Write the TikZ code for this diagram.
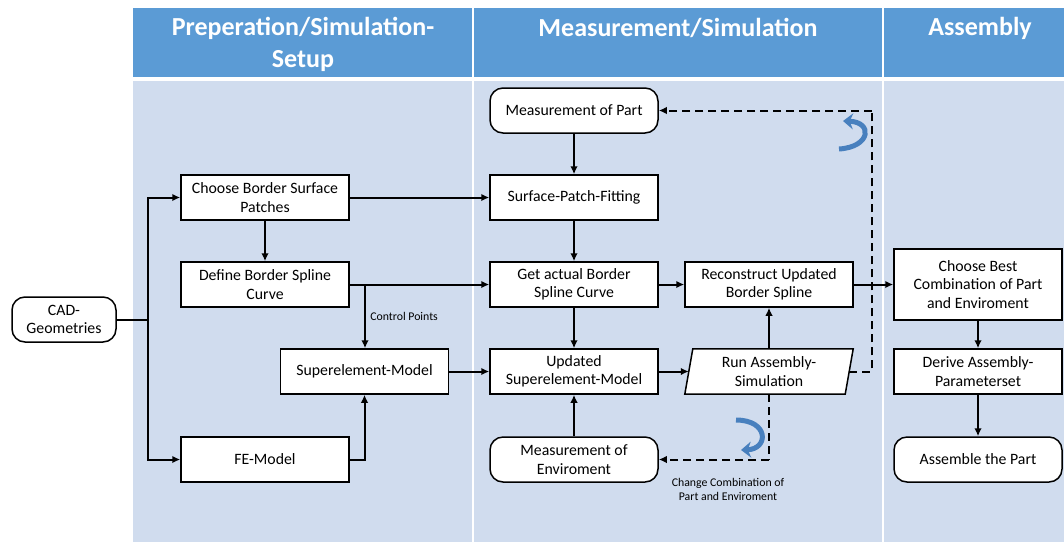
\documentclass[tikz,border=0pt]{standalone}
\usepackage{fontspec}
\setmainfont{Carlito}
\usetikzlibrary{arrows.meta,calc}
\definecolor{hdr}{RGB}{91,155,213}
\definecolor{bodybg}{RGB}{208,220,238}
\definecolor{curv}{RGB}{72,128,190}
\begin{document}
\begin{tikzpicture}[x=1pt,y=-1pt,
  box/.style={draw, fill=white, line width=1.5pt, minimum width=168pt, minimum height=45pt,
    align=center, inner sep=2pt, font=\fontsize{15.8}{18.5}\selectfont},
  rbox/.style={box, rounded corners=13pt},
  plain/.style={minimum width=168pt, minimum height=45pt, align=center, inner sep=2pt,
    font=\fontsize{15.8}{18.5}\selectfont},
  arr/.style={line width=2pt, -{Latex[length=8pt,width=7.5pt]}},
  ln/.style={line width=2pt},
  dsh/.style={line width=2pt, dash pattern=on 8pt off 5pt},
  hdrtxt/.style={text=white, font=\bfseries\fontsize{26}{32}\selectfont, align=center},
  curvy/.style={line width=5pt, curv, -{Stealth[length=10pt,width=16pt]}},
  small/.style={font=\fontsize{11.8}{14}\selectfont, align=center}]
\useasboundingbox (0,0) rectangle (1064,542);
\fill[white] (0,0) rectangle (1064,542);
% column headers and bodies
\fill[hdr] (133,8) rectangle (472,77);
\fill[hdr] (474,8) rectangle (881.5,77);
\fill[hdr] (883.5,8) rectangle (1064,77);
\fill[bodybg] (133,81) rectangle (472,542);
\fill[bodybg] (474,81) rectangle (881.5,542);
\fill[bodybg] (883.5,81) rectangle (1064,542);
\node[hdrtxt] (h1) at (303,44) {Preperation/Simulation-\\Setup};
\node[hdrtxt] (h2) at (678,28) {Measurement/Simulation};
\node[hdrtxt] (h3) at (980,28) {Assembly};

% nodes
\node[rbox, minimum width=104pt] (cad) at (64,319.5) {CAD-\\Geometries};
\node[box] (choose) at (265,197.5) {Choose Border Surface\\Patches};
\node[box] (define) at (265,284.5) {Define Border Spline\\Curve};
\node[box] (super) at (364.5,371.5) {Superelement-Model};
\node[box] (fe) at (265,459.5) {FE-Model};
\node[rbox] (mpart) at (574,110.5) {Measurement of Part};
\node[box] (spf) at (574,197.5) {Surface-Patch-Fitting};
\node[box] (getact) at (574,284.5) {Get actual Border\\Spline Curve};
\node[box] (upd) at (574,371.5) {Updated\\Superelement-Model};
\node[rbox] (menv) at (574,459.5) {Measurement of\\Enviroment};
\node[box] (recon) at (769,284.5) {Reconstruct Updated\\Border Spline};
\node[plain] (run) at (769,371.5) {Run Assembly-\\Simulation};
\draw[line width=1.5pt, fill=white] ($(run.north west)+(8,0)$) -- (run.north east)
  -- ($(run.south east)+(-8,0)$) -- (run.south west) -- cycle;
\node[plain] at (run) {Run Assembly-\\Simulation};
\node[box, minimum height=71pt] (best) at (978,284.5) {Choose Best\\Combination of Part\\and Enviroment};
\node[box] (derive) at (978,371.5) {Derive Assembly-\\Parameterset};
\node[rbox] (assem) at (978,459.5) {Assemble the Part};

% junction coordinates
\coordinate (j) at (148,319.5);
\coordinate (cp) at (365,284.5);
\coordinate (dr) at (872,371.5);
\coordinate (dt) at (872,110.5);
\coordinate (db) at (769,459.5);

% connectors
\draw[ln] (cad.east) -- (j);
\draw[arr] (j) |- (choose.west);
\draw[arr] (j) |- (fe.west);
\draw[arr] (choose) -- (define);
\draw[arr] (choose.east) -- (spf.west);
\draw[arr] (define.east) -- (getact.west);
\draw[arr] (cp) -- (super.north -| cp) node[small, midway, right=1pt] (cplab) {Control Points};
\draw[arr] (fe.east) -| (super.south);
\draw[arr] (super.east) -- (upd.west);
\draw[arr] (mpart) -- (spf);
\draw[arr] (spf) -- (getact);
\draw[arr] (getact) -- (upd);
\draw[arr] (menv) -- (upd);
\draw[arr] (getact) -- (recon);
\draw[arr] (upd.east) -- ($(run.west)+(4,0)$);
\draw[arr] (run.north) -- (recon.south);
\draw[dsh] ($(run.east)+(-4,0)$) -- (dr) -- (dt);
\draw[dsh, -{Latex[length=8pt,width=7.5pt]}] (dt) -- (mpart.east);
\draw[dsh] (run.south) -- (db);
\draw[dsh, -{Latex[length=8pt,width=7.5pt]}] (db) -- (menv.east);
\draw[arr] (recon.east) -- (best.west);
\draw[arr] (best) -- (derive);
\draw[arr] (derive) -- (assem);
\node[small] (cclab) at (728,489) {Change Combination of\\Part and Enviroment};

% curved blue arrows
\draw[curvy] (839,149) .. controls (871,147) and (873,122) .. (843,121);
\draw[curvy] (736,420) .. controls (769,420) and (769,449) .. (741,450);
\end{tikzpicture}
\end{document}
